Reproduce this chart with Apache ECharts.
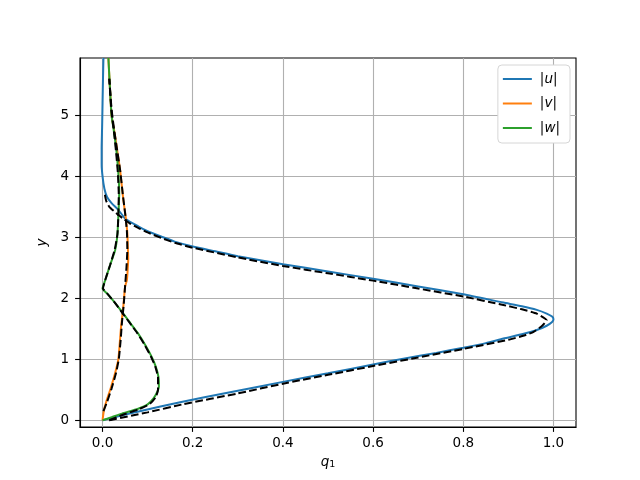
<!DOCTYPE html>
<html>
<head>
<meta charset="utf-8">
<script src="https://cdn.jsdelivr.net/npm/echarts@6/dist/echarts.min.js"></script>
<style>html,body{margin:0;padding:0;background:#fff;}#c{width:640px;height:480px;}</style>
</head>
<body>
<div id="c"></div>
<script>
// tick values
const xTicks = [0, 0.2, 0.4, 0.6, 0.8, 1.0];
const yTicks = [0, 1, 2, 3, 4, 5];
const seriesNames = ['|u|', '|v|', '|w|'];

// |u| solid (q1, y)
const uData = [[0,0],[0.04,0.075],[0.08,0.145],[0.172,0.296],[0.28,0.455],[0.4,0.63],[0.5,0.77],[0.6,0.915],[0.667,1.01],[0.74,1.105],[0.8,1.19],[0.85,1.265],[0.889,1.34],[0.93,1.41],[0.963,1.48],[0.985,1.55],[0.997,1.61],[1.0,1.655],[0.997,1.70],[0.985,1.75],[0.963,1.81],[0.93,1.87],[0.889,1.93],[0.8,2.066],[0.7,2.195],[0.6,2.32],[0.5,2.44],[0.4,2.56],[0.3,2.69],[0.25,2.77],[0.2,2.85],[0.16,2.93],[0.131,3.01],[0.1,3.1],[0.079,3.18],[0.05,3.31],[0.035,3.45],[0.02,3.56],[0.01,3.66],[0.004,3.8],[0.0,4.0],[-0.002,4.2],[-0.002,4.45],[-0.001,4.8],[0.0,5.2],[0.001,5.6],[0.002,5.94]];
// |v| solid
const vData = [[0,0],[0.003,0.16],[0.008,0.3],[0.017,0.5],[0.027,0.75],[0.035,1.0],[0.038,1.25],[0.041,1.53],[0.046,1.86],[0.05,2.19],[0.054,2.3],[0.056,2.5],[0.057,2.65],[0.056,2.85],[0.055,3.07],[0.051,3.35],[0.046,3.62],[0.039,4.1],[0.033,4.4],[0.027,4.7],[0.020,5.0],[0.016,5.5],[0.013,5.94]];
// |w| solid
const wData = [[0,0],[0.02,0.05],[0.043,0.11],[0.079,0.19],[0.1,0.26],[0.113,0.36],[0.121,0.46],[0.125,0.55],[0.124,0.71],[0.118,0.88],[0.109,1.04],[0.095,1.23],[0.079,1.42],[0.062,1.59],[0.046,1.75],[0.025,1.95],[0.01,2.08],[0.0,2.16],[0.006,2.3],[0.017,2.55],[0.028,2.79],[0.033,3.05],[0.035,3.34],[0.037,3.73],[0.035,4.05],[0.031,4.4],[0.026,4.7],[0.020,5.0],[0.016,5.5],[0.013,5.94]];
// reference (dashed)
const uRef = [[0.015,0],[0.1,0.13],[0.18,0.265],[0.3,0.44],[0.4,0.6],[0.5,0.745],[0.6,0.89],[0.7,1.03],[0.8,1.17],[0.9,1.32],[0.935,1.39],[0.956,1.45],[0.975,1.55],[0.985,1.64],[0.963,1.75],[0.93,1.82],[0.889,1.89],[0.8,2.03],[0.7,2.16],[0.6,2.29],[0.5,2.41],[0.4,2.53],[0.3,2.67],[0.2,2.83],[0.16,2.91],[0.13,2.99],[0.1,3.08],[0.08,3.15],[0.06,3.23],[0.045,3.31],[0.03,3.4],[0.015,3.5],[0.008,3.6],[0.004,3.75]];
const vRef = [[0.002,0.15],[0.01,0.3],[0.02,0.52],[0.03,0.78],[0.036,1.0],[0.04,1.3],[0.043,1.6],[0.047,1.9],[0.05,2.2],[0.053,2.5],[0.055,2.8],[0.054,3.1],[0.05,3.4],[0.045,3.7],[0.039,4.1],[0.031,4.5],[0.025,4.8],[0.02,5.1],[0.015,5.6]];
const wRef = [[0.015,0.0],[0.045,0.09],[0.08,0.18],[0.105,0.27],[0.118,0.38],[0.123,0.5],[0.123,0.7],[0.117,0.88],[0.107,1.05],[0.093,1.24],[0.077,1.43],[0.06,1.6],[0.045,1.75],[0.025,1.95],[0.01,2.08],[0.001,2.16],[0.006,2.3],[0.017,2.55],[0.027,2.8],[0.033,3.05],[0.035,3.35],[0.036,3.7],[0.034,4.05],[0.03,4.4],[0.025,4.75],[0.02,5.05],[0.015,5.6]];

const colors = ['#1f77b4', '#ff7f0e', '#2ca02c'];
const font = 'DejaVu Sans';
const fs = 13.5;

function solid(name, data, color) {
  return { name: name, type: 'line', data: data, showSymbol: false, symbol: 'none', smooth: 0.2,
    lineStyle: { color: color, width: 2 }, itemStyle: { color: color }, z: 2, silent: true };
}
function dashed(data) {
  return { type: 'line', data: data, showSymbol: false, symbol: 'none', smooth: 0.15,
    lineStyle: { color: '#000', width: 2, type: [7.7, 3.3] }, z: 3, silent: true };
}

const chart = echarts.init(document.getElementById('c'), null, { renderer: 'canvas' });
chart.setOption({
  animation: false,
  backgroundColor: '#fff',
  textStyle: { fontFamily: font },
  grid: { left: 80, right: 64, top: 58, bottom: 53, show: true, borderColor: '#000', borderWidth: 1.1,
    backgroundColor: 'transparent', containLabel: false, outerBoundsMode: 'none' },
  legend: {
    data: seriesNames, orient: 'vertical', right: 70, top: 65,
    icon: 'path://M0,0 H29 V2 H0 Z',
    backgroundColor: '#fff', borderColor: '#d6d6d6', borderWidth: 1, borderRadius: 4,
    padding: [7, 10, 8, 5], itemWidth: 29, itemHeight: 14, itemGap: 10.5,
    formatter: function (n) { return '|{i|' + n.slice(1, -1) + '}|'; },
    textStyle: { fontFamily: font, fontSize: fs, color: '#000', padding: [0, 0, 0, 3],
      rich: { i: { fontFamily: font, fontStyle: 'italic', fontSize: fs, color: '#000' } } }
  },
  xAxis: {
    type: 'value', min: -0.05, max: 1.05,
    name: '{i|q}{s|1}', nameLocation: 'middle', nameGap: 27,
    nameTextStyle: { rich: { i: { fontFamily: font, fontStyle: 'italic', fontSize: fs, color: '#000' },
                             s: { fontFamily: font, fontSize: 9.5, color: '#000', padding: [6, 0, 0, 0] } } },
    axisLine: { onZero: false, lineStyle: { color: '#000', width: 1.1 } },
    axisTick: { show: true, customValues: xTicks, length: 4.9, lineStyle: { color: '#000', width: 1.1 } },
    axisLabel: { customValues: xTicks, margin: 9, fontFamily: font, fontSize: fs, color: '#000',
      formatter: function (v) { return v.toFixed(1); } },
    splitLine: { show: true, lineStyle: { color: '#b0b0b0', width: 1.1 } }
  },
  yAxis: {
    type: 'value', min: -0.11, max: 5.94,
    name: 'y', nameLocation: 'middle', nameGap: 25,
    nameTextStyle: { fontFamily: font, fontStyle: 'italic', fontSize: fs, color: '#000' },
    axisLine: { onZero: false, lineStyle: { color: '#000', width: 1.1 } },
    axisTick: { show: true, customValues: yTicks, length: 4.9, lineStyle: { color: '#000', width: 1.1 } },
    axisLabel: { customValues: yTicks, margin: 11, fontFamily: font, fontSize: fs, color: '#000',
      formatter: function (v) { return String(Math.round(v)); } },
    splitLine: { show: true, lineStyle: { color: '#b0b0b0', width: 1.1 } }
  },
  series: [
    solid(seriesNames[0], uData, colors[0]),
    solid(seriesNames[1], vData, colors[1]),
    solid(seriesNames[2], wData, colors[2]),
    dashed(uRef), dashed(vRef), dashed(wRef)
  ]
});
</script>
</body>
</html>
